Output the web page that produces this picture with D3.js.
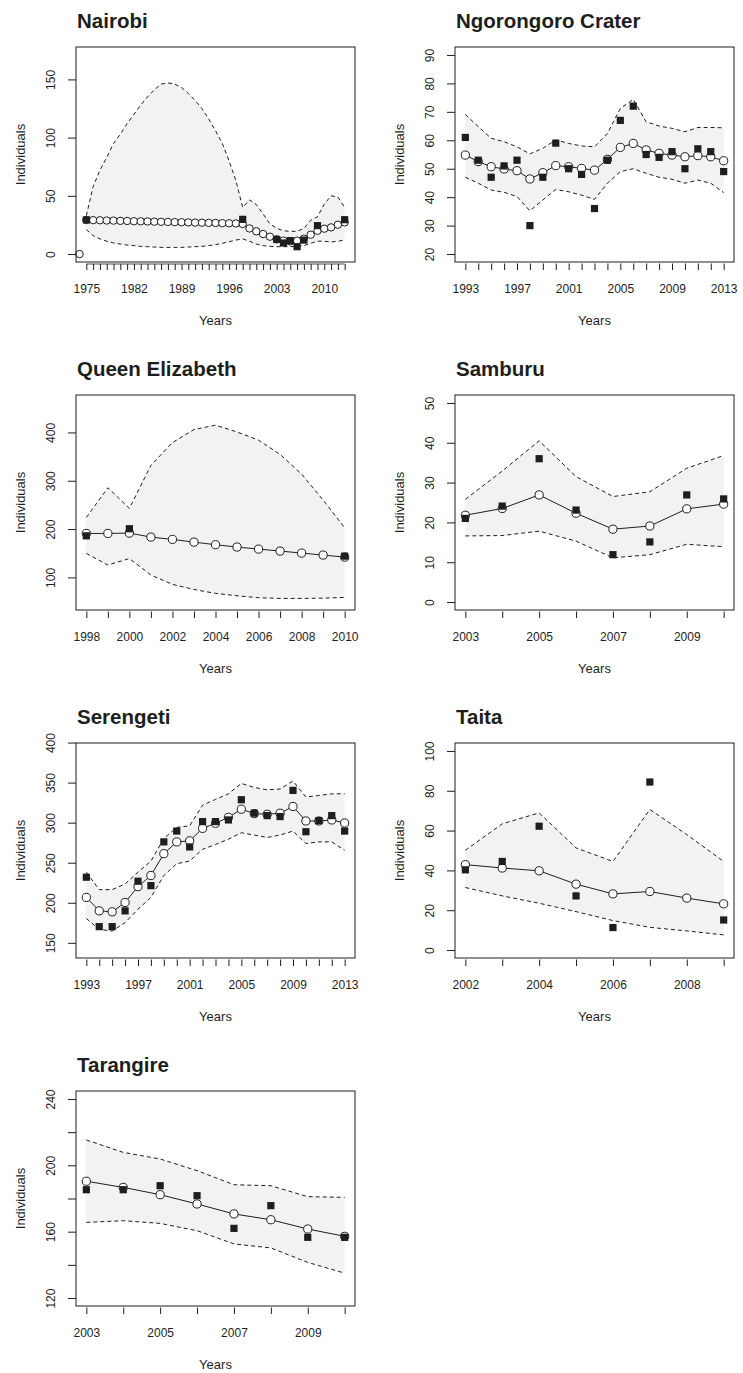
<!DOCTYPE html>
<html><head><meta charset="utf-8">
<script src="https://cdn.jsdelivr.net/npm/d3@7"></script>
<style>
body{margin:0;background:#fff;}
svg{display:block;font-family:"Liberation Sans",Arial,Helvetica,sans-serif;}
</style>
</head><body>
<svg id="chart" width="743" height="1373"></svg>
<script>
// ---------------- DATA ----------------
// Nairobi
const nairobiYears = d3.range(1975, 2014);
const nairobiFit = [29.3,29.1,29.0,28.8,28.7,28.5,28.4,28.2,28.1,28.0,27.8,27.7,27.6,27.4,27.3,27.2,27.0,26.9,26.8,26.7,26.5,26.4,26.3,25.8,22.0,19.5,17.2,14.9,12.6,11.5,10.9,11.5,13.2,16.6,20.0,21.8,22.9,25.2,27.2];
const nairobiUpper = [33,58,72,83,95,103,112,120,128,135,141,146,147,146,143,138,132,125,116,106,95,80,63,40,46.5,42.5,34.4,26,22,20,19.5,19.5,22,29,32,43,50,49,40];
const nairobiLower = [21,15.8,13,11,9.5,8.6,7.7,7.2,6.6,6.3,6,5.7,5.7,5.7,5.7,6,6.3,6.6,7.2,8,9.2,10.6,12,13,11,8.6,7.2,6.6,6.3,6.3,6.3,6.6,7.2,9.2,11,11,10.3,11,12];
const nairobiObsYears = [1975,1998,2003,2004,2005,2006,2007,2009,2013];
const nairobiObs = [29.3,29.8,12.6,9.5,11.5,6.3,12,24.4,29.5];
const nairobiExtraYears = [1974];
const nairobiExtra = [0];
const nairobiXLabels = [1975,1982,1989,1996,2003,2010];
const nairobiYTicks = [0,50,100,150];

// Ngorongoro Crater
const ngoroYears = d3.range(1993, 2014);
const ngoroFit = [54.8,52.5,50.7,49.9,49.3,46.4,48.6,51.1,50.7,50.1,49.5,53.3,57.5,58.9,56.6,55.4,54.8,54.2,54.6,54.2,52.8];
const ngoroUpper = [69.1,64.8,60.7,59.5,57.7,55.2,57.2,60.1,58.9,58.0,57.7,62.4,71.2,74.4,66.5,65.0,64.2,63.0,64.5,64.5,64.4];
const ngoroLower = [47.0,44.9,42.5,41.7,40.2,35.2,39.0,42.7,41.9,40.7,39.2,44.9,49.0,50.0,48.4,47.0,46.3,44.9,46.0,44.9,41.6];
const ngoroObsYears = d3.range(1993, 2014);
const ngoroObs = [61,53,47,51,53,30,47,59,50,48,36,53,67,72,55,54,56,50,57,56,49];
const ngoroXLabels = [1993,1997,2001,2005,2009,2013];
const ngoroYTicks = [20,30,40,50,60,70,80,90];

// Queen Elizabeth
const qeYears = d3.range(1998, 2011);
const qeFit = [191,191,191.7,183.4,178.6,173,167.6,162.8,158.6,154.5,150.3,146.2,142];
const qeUpper = [224,285.5,242.8,332,379,406,415,401,384,354.5,313.8,260,202.8];
const qeLower = [149.7,125.5,139,104.8,85.5,75,66.9,62,57.9,56.5,56.5,57,58.6];
const qeObsYears = [1998,2000,2010];
const qeObs = [186,200.7,144];
const qeXLabels = [1998,2000,2002,2004,2006,2008,2010];
const qeYTicks = [100,200,300,400];

// Samburu
const samYears = d3.range(2003, 2011);
const samFit = [21.8,23.5,26.9,22.3,18.3,19.1,23.4,24.6];
const samUpper = [25.8,32.9,40.5,31.5,26.5,27.7,33.6,36.8];
const samLower = [16.6,16.7,17.8,15.3,11.1,11.9,14.5,13.9];
const samObsYears = d3.range(2003, 2011);
const samObs = [21,24.1,36,23.1,11.9,15.1,26.9,25.9];
const samXLabels = [2003,2005,2007,2009];
const samYTicks = [0,10,20,30,40,50];

// Serengeti
const serYears = d3.range(1993, 2014);
const serFit = [206.7,189.9,188.7,200.4,220.2,234,261.3,276,277.3,292.9,299.2,306.7,316.8,311.3,310.5,311.8,320.2,302.1,302.1,303.4,299.6];
const serUpper = [238.2,216.4,216.4,223.5,238.2,252,280.3,294.1,296,322,329,336,349,344,341,342,352,332,334,336,336];
const serLower = [180.3,166.8,164.7,175.2,192,206.7,234,248.7,252.1,266.8,272.7,279.4,287.4,284.5,281.5,284.5,289.5,274,276,276,265.5];
const serObsYears = d3.range(1993, 2014);
const serObs = [231.9,170.2,170.2,189.9,226.9,221.4,276,289.5,269.7,301.3,301.3,303.4,328.6,311.8,308.8,307.6,340.3,288.7,302.5,308.8,289.5];
const serXLabels = [1993,1997,2001,2005,2009,2013];
const serYTicks = [150,200,250,300,350,400];

// Taita
const taitaYears = d3.range(2002, 2010);
const taitaFit = [42.9,41.2,39.8,33.1,28.2,29.4,26.1,23.2];
const taitaUpper = [50.1,63.4,68.9,51.3,44.5,70.6,58,44.5];
const taitaLower = [31.4,27.2,23.5,19.3,14.8,11.4,9.6,7.6];
const taitaObsYears = [2002,2003,2004,2005,2006,2007,2009];
const taitaObs = [40.3,44.5,62.2,27.2,11.3,84.4,15.1];
const taitaXLabels = [2002,2004,2006,2008];
const taitaYTicks = [0,20,40,60,80,100];

// Tarangire
const tarYears = d3.range(2003, 2011);
const tarFit = [190.4,186.7,182.3,176.7,170.7,167.2,161.6,157.2];
const tarUpper = [215.3,207.8,203.8,196.8,188.3,187.7,181.1,180.7];
const tarLower = [165.6,166.6,165,160.6,152.6,150.2,141.5,135];
const tarObsYears = d3.range(2003, 2011);
const tarObs = [185.3,185.3,187.7,181.7,162,175.7,156.6,156.6];
const tarXLabels = [2003,2005,2007,2009];
const tarYTicks = [120,140,160,180,200,220,240];
const tarYLabels = [120,160,200,240];

// ---------------- PANELS ----------------
const panels = [
  {title:"Nairobi", col:0, row:0, years:nairobiYears, fit:nairobiFit, upper:nairobiUpper, lower:nairobiLower,
   obsYears:nairobiObsYears, obs:nairobiObs, extraYears:nairobiExtraYears, extra:nairobiExtra,
   xLabels:nairobiXLabels, yTicks:nairobiYTicks, yLabels:nairobiYTicks, yRange:[0,171], dense:true},
  {title:"Ngorongoro Crater", col:1, row:0, years:ngoroYears, fit:ngoroFit, upper:ngoroUpper, lower:ngoroLower,
   obsYears:ngoroObsYears, obs:ngoroObs, xLabels:ngoroXLabels, yTicks:ngoroYTicks, yLabels:ngoroYTicks, yRange:[20,90]},
  {title:"Queen Elizabeth", col:0, row:1, years:qeYears, fit:qeFit, upper:qeUpper, lower:qeLower,
   obsYears:qeObsYears, obs:qeObs, xLabels:qeXLabels, yTicks:qeYTicks, yLabels:qeYTicks, yRange:[49,461]},
  {title:"Samburu", col:1, row:1, years:samYears, fit:samFit, upper:samUpper, lower:samLower,
   obsYears:samObsYears, obs:samObs, xLabels:samXLabels, yTicks:samYTicks, yLabels:samYTicks, yRange:[0,50]},
  {title:"Serengeti", col:0, row:2, years:serYears, fit:serFit, upper:serUpper, lower:serLower,
   obsYears:serObsYears, obs:serObs, xLabels:serXLabels, yTicks:serYTicks, yLabels:serYTicks, yRange:[141,389.5]},
  {title:"Taita", col:1, row:2, years:taitaYears, fit:taitaFit, upper:taitaUpper, lower:taitaLower,
   obsYears:taitaObsYears, obs:taitaObs, xLabels:taitaXLabels, yTicks:taitaYTicks, yLabels:taitaYTicks, yRange:[0,100]},
  {title:"Tarangire", col:0, row:3, years:tarYears, fit:tarFit, upper:tarUpper, lower:tarLower,
   obsYears:tarObsYears, obs:tarObs, xLabels:tarXLabels, yTicks:tarYTicks, yLabels:tarYLabels, yRange:[120,240]}
];

// ---------------- LAYOUT ----------------
const colX = [76, 455];
const rowY = [47, 395, 743, 1091];
const W = 279, H = 215;
const ink = "#1e1e1e";
const pad = (lo, hi) => [lo - 0.04 * (hi - lo), hi + 0.04 * (hi - lo)];

const svg = d3.select("#chart");

panels.forEach(p => {
  const left = colX[p.col], top = rowY[p.row];
  const bottom = top + H;
  const first = p.years[0], last = p.years[p.years.length - 1];
  const x = d3.scaleLinear().domain(pad(first, last)).range([left, left + W]);
  const y = d3.scaleLinear().domain(pad(p.yRange[0], p.yRange[1])).range([bottom, top]);
  const g = svg.append("g");

  const band = p.years.map((yr, i) => ({yr, lo: p.lower[i], hi: p.upper[i], fit: p.fit[i]}));

  g.append("path").datum(band)
    .attr("d", d3.area().x(d => x(d.yr)).y0(d => y(d.lo)).y1(d => y(d.hi)))
    .attr("fill", "#f2f2f2");

  ["hi", "lo"].forEach(k => {
    g.append("path").datum(band)
      .attr("d", d3.line().x(d => x(d.yr)).y(d => y(d[k])))
      .attr("fill", "none").attr("stroke", ink).attr("stroke-width", 1)
      .attr("stroke-dasharray", "4,3");
  });

  g.append("path").datum(band)
    .attr("d", d3.line().x(d => x(d.yr)).y(d => y(d.fit)))
    .attr("fill", "none").attr("stroke", ink).attr("stroke-width", 1);

  const r = p.dense ? 3.7 : 4.1;
  const circ = band.slice();
  if (p.extraYears) p.extraYears.forEach((yr, i) => circ.push({yr, fit: p.extra[i]}));
  g.selectAll("circle.fit").data(circ).enter().append("circle")
    .attr("cx", d => x(d.yr)).attr("cy", d => y(d.fit)).attr("r", r)
    .attr("fill", "#fff").attr("stroke", ink).attr("stroke-width", 1);

  const s = 7.2;
  g.selectAll("rect.obs").data(p.obsYears.map((yr, i) => ({yr, v: p.obs[i]}))).enter().append("rect")
    .attr("x", d => x(d.yr) - s / 2).attr("y", d => y(d.v) - s / 2)
    .attr("width", s).attr("height", s).attr("fill", ink);

  // box
  g.append("rect").attr("x", left).attr("y", top).attr("width", W).attr("height", H)
    .attr("fill", "none").attr("stroke", ink).attr("stroke-width", 1);

  // y axis
  const ya = g.append("g").attr("transform", `translate(${left},0)`)
    .call(d3.axisLeft(y).tickValues(p.yTicks).tickSize(8).tickSizeOuter(0)
      .tickFormat(v => p.yLabels.includes(v) ? String(v) : ""));
  ya.select(".domain").remove();
  ya.attr("font-family", null);
  ya.selectAll(".tick line").attr("stroke", ink);
  ya.selectAll(".tick text")
    .attr("x", 0).attr("y", 0).attr("dy", 0)
    .attr("transform", "translate(-21,0) rotate(-90)")
    .attr("text-anchor", "middle")
    .attr("font-size", 12).attr("fill", ink);

  // x axis
  const off = p.dense ? 2 : 1.5;
  const xa = g.append("g").attr("transform", `translate(0,${bottom + off})`)
    .call(d3.axisBottom(x).tickValues(d3.range(first, last + 1)).tickSize(8 - off).tickSizeOuter(0)
      .tickFormat(v => p.xLabels.includes(v) ? String(v) : ""));
  xa.select(".domain").remove();
  xa.attr("font-family", null);
  if (p.dense) xa.append("line").attr("x1", x(first)).attr("x2", x(last)).attr("stroke", ink).attr("stroke-width", 0.8);
  xa.selectAll(".tick line").attr("stroke", ink);
  xa.selectAll(".tick text").attr("y", 30.5 - off).attr("dy", 0)
    .attr("font-size", 12).attr("fill", ink);

  // titles and labels
  g.append("text").attr("x", left + 1).attr("y", top - 19.5)
    .attr("font-size", 20.5).attr("font-weight", "bold").attr("fill", ink).text(p.title);
  g.append("text").attr("x", left + W / 2).attr("y", bottom + 63)
    .attr("text-anchor", "middle").attr("font-size", 13).attr("fill", ink).text("Years");
  g.append("text").attr("transform", `translate(${left - 51},${top + H / 2}) rotate(-90)`)
    .attr("text-anchor", "middle").attr("font-size", 13).attr("fill", ink).text("Individuals");
});
</script>
</body></html>
